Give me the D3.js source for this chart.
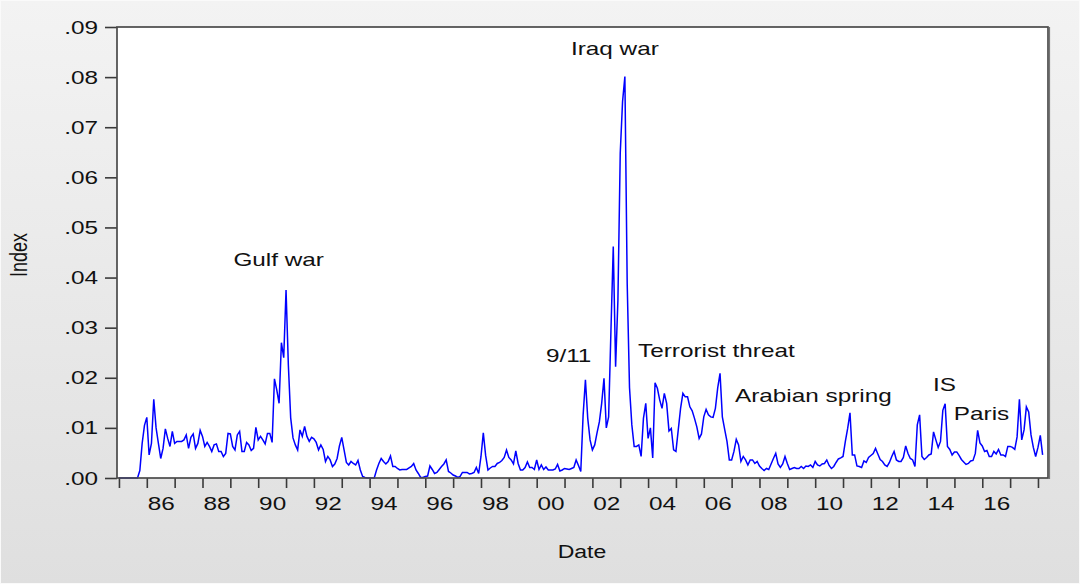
<!DOCTYPE html>
<html>
<head>
<meta charset="utf-8">
<script src="https://cdn.jsdelivr.net/npm/d3@7"></script>
<style>
  body { margin: 0; background: #ececec; }
  svg { display: block; }
</style>
</head>
<body>
<svg id="chart" width="1080" height="584"></svg>
<script>
// monthly index values, first value = Jan 1985
const startYear = 1985;

const idx1985_1989 = [
  0, 0, 0, 0, 0, 0, 0, 0, 0, 0.0015, 0.0069, 0.0105,
  0.0121, 0.0046, 0.0069, 0.0157, 0.0100, 0.0069, 0.0039, 0.0059, 0.0098, 0.0079, 0.0063, 0.0093,
  0.0069, 0.0073, 0.0073, 0.0073, 0.0076, 0.0086, 0.0059, 0.0081, 0.0088, 0.0059, 0.0069, 0.0095,
  0.0083, 0.0063, 0.0071, 0.0063, 0.0053, 0.0066, 0.0068, 0.0053, 0.0053, 0.0043, 0.0049, 0.0089,
  0.0088, 0.0063, 0.0056, 0.0086, 0.0093, 0.0053, 0.0053, 0.0071, 0.0066, 0.0055, 0.0059, 0.0101
];
const idx1990_1994 = [
  0.0076, 0.0083, 0.0076, 0.0068, 0.0089, 0.0089, 0.0071, 0.0198, 0.0176, 0.0149, 0.0270, 0.0240,
  0.0375, 0.0225, 0.0120, 0.0080, 0.0066, 0.0056, 0.0096, 0.0083, 0.0103, 0.0083, 0.0073, 0.0081,
  0.0078, 0.0071, 0.0056, 0.0066, 0.0057, 0.0033, 0.0043, 0.0036, 0.0023, 0.0028, 0.0039, 0.0064,
  0.0081, 0.0056, 0.0031, 0.0026, 0.0033, 0.0029, 0.0026, 0.0035, 0.0016, 0.0003, 0.0001, 0,
  0, 0, 0, 0.0016, 0.0029, 0.0039, 0.0033, 0.0028, 0.0033, 0.0044, 0.0023, 0.0023
];
const idx1995_1999 = [
  0.0019, 0.0016, 0.0017, 0.0017, 0.0017, 0.0020, 0.0023, 0.0029, 0.0016, 0.0009, 0.0001, 0.0001,
  0.0003, 0.0004, 0.0024, 0.0017, 0.0009, 0.0011, 0.0017, 0.0023, 0.0028, 0.0036, 0.0013, 0.0010,
  0.0006, 0.0004, 0.0001, 0.0003, 0.0011, 0.0011, 0.0011, 0.0008, 0.0009, 0.0011, 0.0021, 0.0009,
  0.0043, 0.0090, 0.0045, 0.0016, 0.0020, 0.0023, 0.0023, 0.0029, 0.0031, 0.0035, 0.0041, 0.0056,
  0.0041, 0.0036, 0.0028, 0.0054, 0.0029, 0.0016, 0.0016, 0.0021, 0.0032, 0.0021, 0.0021, 0.0017
];
const idx2000_2004 = [
  0.0036, 0.0017, 0.0026, 0.0017, 0.0022, 0.0016, 0.0016, 0.0016, 0.0018, 0.0027, 0.0014, 0.0016,
  0.0019, 0.0018, 0.0017, 0.0019, 0.0021, 0.0036, 0.0025, 0.0013, 0.0125, 0.0196, 0.0119, 0.0076,
  0.0056, 0.0066, 0.0090, 0.0112, 0.0149, 0.0199, 0.0100, 0.0122, 0.0295, 0.0462, 0.0222, 0.0355,
  0.0648, 0.0751, 0.0801, 0.0388, 0.0180, 0.0106, 0.0063, 0.0063, 0.0066, 0.0043, 0.0119, 0.0149,
  0.0079, 0.0100, 0.0040, 0.0190, 0.0179, 0.0156, 0.0139, 0.0169, 0.0149, 0.0094, 0.0099, 0.0056
];
const idx2005_2009 = [
  0.0053, 0.0096, 0.0139, 0.0169, 0.0162, 0.0162, 0.0142, 0.0134, 0.0119, 0.0102, 0.0079, 0.0088,
  0.0122, 0.0137, 0.0126, 0.0122, 0.0121, 0.0139, 0.0180, 0.0209, 0.0122, 0.0097, 0.0073, 0.0036,
  0.0036, 0.0053, 0.0077, 0.0066, 0.0033, 0.0043, 0.0036, 0.0026, 0.0036, 0.0036, 0.0029, 0.0033,
  0.0024, 0.0019, 0.0015, 0.0019, 0.0017, 0.0028, 0.0039, 0.0049, 0.0028, 0.0021, 0.0028, 0.0043,
  0.0029, 0.0017, 0.0019, 0.0021, 0.0019, 0.0019, 0.0023, 0.0019, 0.0024, 0.0023, 0.0026, 0.0021
];
const idx2010_2014 = [
  0.0033, 0.0026, 0.0024, 0.0028, 0.0029, 0.0036, 0.0025, 0.0019, 0.0023, 0.0031, 0.0038, 0.0040,
  0.0043, 0.0073, 0.0099, 0.0130, 0.0046, 0.0046, 0.0024, 0.0023, 0.0021, 0.0034, 0.0031, 0.0041,
  0.0045, 0.0049, 0.0059, 0.0048, 0.0037, 0.0033, 0.0026, 0.0023, 0.0031, 0.0043, 0.0053, 0.0036,
  0.0033, 0.0033, 0.0041, 0.0064, 0.0049, 0.0039, 0.0036, 0.0023, 0.0106, 0.0126, 0.0043, 0.0037,
  0.0041, 0.0046, 0.0048, 0.0092, 0.0076, 0.0061, 0.0073, 0.0135, 0.0148, 0.0063, 0.0057, 0.0046
];
const idx2015_2018 = [
  0.0052, 0.0052, 0.0045, 0.0037, 0.0032, 0.0027, 0.0029, 0.0034, 0.0035, 0.0049, 0.0095, 0.0070,
  0.0064, 0.0053, 0.0055, 0.0043, 0.0043, 0.0053, 0.0048, 0.0057, 0.0046, 0.0046, 0.0043, 0.0063,
  0.0063, 0.0061, 0.0057, 0.0082, 0.0157, 0.0076, 0.0096, 0.0142, 0.0132, 0.0086, 0.0061, 0.0043,
  0.0061, 0.0085, 0.0046
];

const yTicks = [0, 0.01, 0.02, 0.03, 0.04, 0.05, 0.06, 0.07, 0.08, 0.09];
const yearTicks = d3.range(1985, 2019);
const labelYears = [1986, 1988, 1990, 1992, 1994, 1996, 1998, 2000, 2002, 2004, 2006, 2008, 2010, 2012, 2014, 2016];
const yearLabels = ['86', '88', '90', '92', '94', '96', '98', '00', '02', '04', '06', '08', '10', '12', '14', '16'];

const noteText = ['Gulf war', 'Iraq war', '9/11', 'Terrorist threat', 'Arabian spring', 'IS', 'Paris'];
const noteYear = [1989.11, 2001.23, 2000.33, 2003.64, 2007.12, 2014.23, 2014.98];
const noteValue = [0.0423, 0.0844, 0.0231, 0.0242, 0.0152, 0.0174, 0.0116];

const values = [].concat(idx1985_1989, idx1990_1994, idx1995_1999, idx2000_2004,
  idx2005_2009, idx2010_2014, idx2015_2018);
const dates = values.map((d, i) => startYear + i / 12);

const width = 1080, height = 584;
const plotLeft = 117, plotRight = 1048, plotTop = 27, plotBottom = 478;
const stretch = 1.28;   // the original picture is stretched sideways
const font = '"Liberation Sans", Arial, sans-serif';

const x = d3.scaleLinear().domain([1984.93, 2018.36]).range([plotLeft, plotRight]);
const y = d3.scaleLinear().domain([0, 0.09]).range([plotBottom, plotTop]);

const svg = d3.select('#chart');

const grad = svg.append('defs').append('linearGradient')
  .attr('id', 'bg').attr('x1', 0).attr('y1', 0).attr('x2', 0).attr('y2', 1);
grad.append('stop').attr('offset', '0%').attr('stop-color', '#f3f3f3');
grad.append('stop').attr('offset', '100%').attr('stop-color', '#dfdfdf');

svg.append('rect').attr('width', width).attr('height', height).attr('fill', 'url(#bg)');
svg.append('rect').attr('x', 0.5).attr('y', 0.5).attr('width', width - 1).attr('height', height - 1)
  .attr('fill', 'none').attr('stroke', '#fafafa');

svg.append('rect')
  .attr('x', plotLeft).attr('y', plotTop)
  .attr('width', plotRight - plotLeft).attr('height', plotBottom - plotTop)
  .attr('fill', '#fff');

// series
const line = d3.line().x((d, i) => x(dates[i])).y(d => y(d));
svg.append('path')
  .datum(values)
  .attr('d', line)
  .attr('fill', 'none')
  .attr('stroke', '#0000ff')
  .attr('stroke-width', 1.5);

// y axis
const yAxis = d3.axisLeft(y).tickValues(yTicks).tickSize(12).tickPadding(0)
  .tickFormat(d => d3.format('.2f')(d).replace(/^0/, ''));
const gy = svg.append('g')
  .attr('transform', `translate(${plotLeft},0)`)
  .call(yAxis)
  .attr('font-family', font).attr('font-size', 19).attr('color', '#111');
gy.select('.domain').remove();
gy.selectAll('.tick line').attr('stroke', '#3a3a3a').attr('stroke-width', 1.6);
gy.selectAll('.tick text')
  .attr('x', -19 / stretch)
  .attr('transform', `scale(${stretch},1)`);

// x axis: ticks at year starts
const xAxis = d3.axisBottom(x).tickValues(yearTicks).tickSize(10).tickFormat('');
const gx = svg.append('g')
  .attr('transform', `translate(0,${plotBottom})`)
  .call(xAxis);
gx.select('.domain').remove();
gx.selectAll('.tick line').attr('stroke', '#3a3a3a').attr('stroke-width', 1.6);

// x labels in the middle of each labelled year
const xLab = d3.axisBottom(x).tickValues(labelYears.map(d => d + 0.5)).tickSize(0)
  .tickFormat((d, i) => yearLabels[i]);
const gl = svg.append('g')
  .attr('transform', `translate(0,${plotBottom})`)
  .call(xLab)
  .attr('font-family', font).attr('font-size', 19).attr('color', '#111');
gl.select('.domain').remove();
gl.selectAll('.tick text')
  .attr('y', 19)
  .attr('transform', `scale(${stretch},1)`);

// frame
svg.append('rect')
  .attr('x', plotLeft).attr('y', plotTop)
  .attr('width', plotRight - plotLeft).attr('height', plotBottom - plotTop)
  .attr('fill', 'none').attr('stroke', '#4a4a4a').attr('stroke-width', 1.7);
svg.append('line')
  .attr('x1', plotRight + 1.5).attr('x2', plotRight + 1.5)
  .attr('y1', plotTop).attr('y2', plotBottom + 1)
  .attr('stroke', '#777').attr('stroke-width', 1.2);

// annotations
svg.selectAll('text.note')
  .data(noteText)
  .enter()
  .append('text')
  .attr('class', 'note')
  .attr('transform', (d, i) => `translate(${x(noteYear[i])},${y(noteValue[i])}) scale(${stretch},1)`)
  .attr('font-family', font).attr('font-size', 19).attr('fill', '#111')
  .text(d => d);

// axis titles
svg.append('text')
  .attr('transform', `translate(582,558) scale(${stretch},1)`)
  .attr('text-anchor', 'middle')
  .attr('font-family', font).attr('font-size', 18).attr('fill', '#111')
  .text('Date');

svg.append('text')
  .attr('transform', `translate(27,255) scale(${stretch},1) rotate(-90)`)
  .attr('text-anchor', 'middle')
  .attr('font-family', font).attr('font-size', 18).attr('fill', '#111')
  .text('Index');
</script>
</body>
</html>
